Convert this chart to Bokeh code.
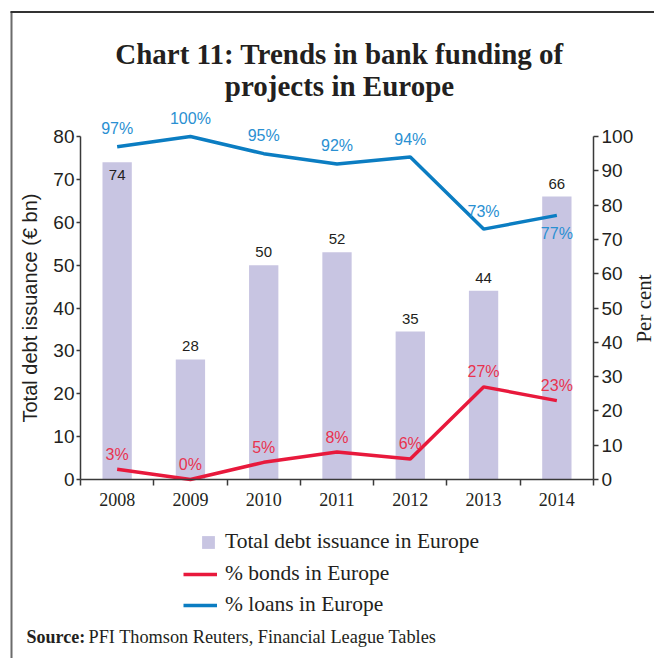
import numpy as np
from bokeh.plotting import figure
from bokeh.models import (Range1d, LinearAxis, FixedTicker, Label, Legend, LegendItem,
                          BoxAnnotation, ColumnDataSource)
from bokeh.embed import file_html
from bokeh.resources import INLINE
from bokeh.core.properties import value

# ---------------- data ----------------
years = ["2008", "2009", "2010", "2011", "2012", "2013", "2014"]
debt_issuance = [74, 28, 50, 53, 34.5, 44, 66]          # € bn (bar heights)
debt_labels = ["74", "28", "50", "52", "35", "44", "66"]  # printed bar labels
bonds_pct = [3, 0, 5, 8, 6, 27, 23]
loans_pct = [97, 100, 95, 92, 94, 73, 77]
left_ticks = [0, 10, 20, 30, 40, 50, 60, 70, 80]
right_ticks = [0, 10, 20, 30, 40, 50, 60, 70, 80, 90, 100]

title_lines = ["Chart 11: Trends in bank funding of", "projects in Europe"]
left_label = "Total debt issuance (€ bn)"
right_label = "Per cent"
legend_labels = ["Total debt issuance in Europe", "% bonds in Europe", "% loans in Europe"]
source_bold = "Source:"
source_text = "PFI Thomson Reuters, Financial League Tables"

# ---------------- styles / layout ----------------
BAR = "#c8c5e2"
BLUE = "#0b7dc2"
BLUE_T = "#2a90d2"
RED = "#e8193c"
RED_T = "#e8334f"
INK = "#231f20"
AX = "#3a3a3a"
SANS = "Liberation Sans"
SERIF = "Liberation Serif"

W, H = 654, 658
FL, FR, FT, FB = 80, 593, 136, 479   # chart area in canvas pixels
n = len(years)
LMAX, RMAX = left_ticks[-1], right_ticks[-1]

ux = (FR - FL) / n
uy = (FB - FT) / LMAX
uy2 = (FB - FT) / RMAX

xc = [i + 0.5 for i in range(n)]

p = figure(width=W, height=H,
           x_range=Range1d(-FL / ux, (W - FL) / ux),
           y_range=Range1d(-(H - FB) / uy, FB / uy),
           x_axis_type=None, y_axis_type=None,
           output_backend="svg", toolbar_location=None, title=None,
           min_border=0, min_border_left=0, min_border_right=0,
           min_border_top=0, min_border_bottom=0)
p.extra_y_ranges = {"pct": Range1d(-(H - FB) / uy2, FB / uy2)}
p.outline_line_color = None
p.background_fill_color = "white"
p.border_fill_color = "white"
p.grid.visible = False

# x axis (at y = 0)
xa = LinearAxis(fixed_location=0, bounds=(0, n))
xa.ticker = FixedTicker(ticks=xc, minor_ticks=list(range(n + 1)))
xa.major_label_overrides = {xv: yr for xv, yr in zip(xc, years)}
xa.major_tick_line_color = None
xa.major_tick_out = 6
xa.major_tick_in = 0
xa.minor_tick_line_color = AX
xa.minor_tick_line_width = 1.5
xa.minor_tick_out = 6
xa.minor_tick_in = 0
xa.axis_line_color = AX
xa.axis_line_width = 1.5
xa.major_label_standoff = 7
xa.major_label_text_font = SERIF
xa.major_label_text_font_size = "18px"
xa.major_label_text_color = INK
p.add_layout(xa, "below")

# left axis (at x = 0)
ya = LinearAxis(fixed_location=0, bounds=(0, LMAX), ticker=FixedTicker(ticks=left_ticks))
ya.minor_tick_line_color = None
ya.major_tick_out = 4
ya.major_tick_in = 0
ya.major_tick_line_color = AX
ya.major_tick_line_width = 1.5
ya.axis_line_color = AX
ya.axis_line_width = 1.5
ya.major_label_standoff = 2
ya.major_label_text_font = SANS
ya.major_label_text_font_size = "19px"
ya.major_label_text_color = INK
ya.axis_label = left_label
ya.axis_label_text_font = SANS
ya.axis_label_text_font_style = "normal"
ya.axis_label_text_font_size = "20px"
ya.axis_label_text_color = INK
ya.axis_label_standoff = 9
p.add_layout(ya, "left")

# right axis (at x = n)
ra = LinearAxis(y_range_name="pct", fixed_location=n, bounds=(0, RMAX),
                ticker=FixedTicker(ticks=right_ticks))
ra.minor_tick_line_color = None
ra.major_tick_out = 5
ra.major_tick_in = 0
ra.major_tick_line_color = AX
ra.major_tick_line_width = 1.5
ra.axis_line_color = AX
ra.axis_line_width = 1.5
ra.major_label_standoff = 3
ra.major_label_text_font = SANS
ra.major_label_text_font_size = "19px"
ra.major_label_text_color = INK
p.add_layout(ra, "right")

# ---------------- glyphs ----------------
bar_src = ColumnDataSource(dict(
    x=xc, top=debt_issuance, label=debt_labels,
    off=[13 if v == max(debt_issuance) else -13 for v in debt_issuance]))
bars = p.vbar(x="x", top="top", bottom=0, width=0.4, source=bar_src,
              fill_color=BAR, line_color=None)
p.text(x="x", y="top", text="label", y_offset="off", source=bar_src,
       text_align="center", text_baseline="middle", text_font=value(SANS),
       text_font_size="15px", text_color=INK)

loan_side = [-18, -18, -18, -18, -18, -18, 18]
loan_src = ColumnDataSource(dict(x=xc, y=loans_pct,
                                 label=[f"{v}%" for v in loans_pct], off=loan_side))
bond_src = ColumnDataSource(dict(x=xc, y=bonds_pct,
                                 label=[f"{v}%" for v in bonds_pct], off=[-15] * n))

bonds_r = p.line(x="x", y="y", source=bond_src, y_range_name="pct",
                 line_color=RED, line_width=3.5)
loans_r = p.line(x="x", y="y", source=loan_src, y_range_name="pct",
                 line_color=BLUE, line_width=3.5)
p.text(x="x", y="y", text="label", y_offset="off", source=loan_src, y_range_name="pct",
       text_align="center", text_baseline="middle", text_font=value(SANS),
       text_font_size="16px", text_color=BLUE_T)
p.text(x="x", y="y", text="label", y_offset="off", source=bond_src, y_range_name="pct",
       text_align="center", text_baseline="middle", text_font=value(SANS),
       text_font_size="16px", text_color=RED_T)

# ---------------- legends ----------------
leg1 = Legend(items=[LegendItem(label=legend_labels[0], renderers=[bars])],
              location=(200, H - 554), glyph_width=16, glyph_height=16,
              label_height=20, label_standoff=9, padding=0, margin=0, spacing=6,
              border_line_color=None, background_fill_alpha=0,
              label_text_font=SERIF, label_text_font_size="21.5px",
              label_text_color=INK)
leg2 = Legend(items=[LegendItem(label=legend_labels[1], renderers=[bonds_r]),
                     LegendItem(label=legend_labels[2], renderers=[loans_r])],
              location=(183, H - 617), glyph_width=34, glyph_height=16,
              label_height=20, label_standoff=8, padding=0, margin=0, spacing=6,
              border_line_color=None, background_fill_alpha=0,
              label_text_font=SERIF, label_text_font_size="21.5px",
              label_text_color=INK)
p.add_layout(leg1)
p.add_layout(leg2)

# ---------------- texts ----------------
def lab(x, y, text, **kw):
    p.add_layout(Label(x=x, y=H - y, x_units="screen", y_units="screen", text=text,
                       text_color=INK, **kw))

lab(339, 53, title_lines[0], text_align="center", text_baseline="alphabetic",
    text_font=SERIF, text_font_style="bold", text_font_size="29px")
lab(339, 85, title_lines[1], text_align="center", text_baseline="alphabetic",
    text_font=SERIF, text_font_style="bold", text_font_size="29px")
lab(643, 308, right_label, angle=90, angle_units="deg", text_align="center",
    text_baseline="middle", text_font=SERIF, text_font_size="21px")
lab(26, 636, source_bold, text_align="left", text_baseline="middle",
    text_font=SERIF, text_font_style="bold", text_font_size="18px")
lab(88, 636, source_text, text_align="left", text_baseline="middle",
    text_font=SERIF, text_font_size="18.3px")

# ---------------- frame lines (partial border) ----------------
def box(l, r, t, b, color):
    p.add_layout(BoxAnnotation(left=l, right=r, top=H - t, bottom=H - b,
                               left_units="screen", right_units="screen",
                               top_units="screen", bottom_units="screen",
                               fill_color=color, fill_alpha=1, line_color=None,
                               level="overlay"))

box(10, 12, 11, H + 10, "#6b6b6b")
box(10, W + 10, 10.5, 12.5, "#333333")

open("out.html", "w").write(file_html(p, INLINE))
